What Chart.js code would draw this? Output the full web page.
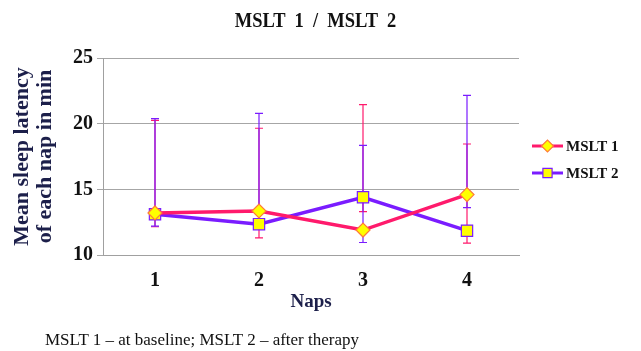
<!DOCTYPE html>
<html>
<head>
<meta charset="utf-8">
<script src="https://cdn.jsdelivr.net/npm/chart.js@4/dist/chart.umd.min.js"></script>
<style>
  body { margin: 0; background: #fff; }
  #wrap { position: relative; width: 641px; height: 351px; }
  #title {
    position: absolute; left: 0; top: 9px; width: 631px; text-align: center;
    font: bold 21px "Liberation Serif", serif; line-height: 22px; color: #111;
    white-space: pre; transform: scaleX(0.88);
  }
  #caption {
    position: absolute; left: 45px; top: 331px;
    font: 17px "Liberation Serif", serif; line-height: 17px; color: #111;
    white-space: nowrap;
  }
</style>
</head>
<body>
<div id="wrap">
  <canvas id="chart" width="641" height="351"></canvas>
  <div id="title">MSLT  1  /  MSLT  2</div>
  <div id="caption">MSLT 1 – at baseline; MSLT 2 – after therapy</div>
</div>
<script>
// data
const naps = ["1", "2", "3", "4"];
const mslt1 = [13.2, 13.35, 11.9, 14.6];
const mslt2 = [13.1, 12.35, 14.4, 11.85];
// error bar ends (low / high)
const mslt1Low = [12.15, 11.3, 13.3, 10.9];
const mslt1High = [20.25, 19.65, 21.45, 18.45];
const mslt2Low = [12.2, 12.4, 10.95, 13.6];
const mslt2High = [20.38, 20.78, 18.35, 22.15];
const yTicks = [10, 15, 20, 25];

const pink = "#ff1a6c";
const purple = "#7a1cff";
const navy = "#1c1f4a";
const serif = "'Liberation Serif', 'Times New Roman', serif";

// error bars, drawn with the chart's scales
const errorBars = {
  id: "errorBars",
  beforeDatasetsDraw(chart) {
    const ctx = chart.ctx;
    const x = chart.scales.x;
    const y = chart.scales.y;
    const sets = [
      { low: mslt1Low, high: mslt1High, color: pink },
      { low: mslt2Low, high: mslt2High, color: purple },
    ];
    ctx.save();
    ctx.lineWidth = 1.2;
    sets.forEach((s) => {
      ctx.strokeStyle = s.color;
      for (let i = 0; i < naps.length; i++) {
        const px = x.getPixelForValue(i);
        const yl = y.getPixelForValue(s.low[i]);
        const yh = y.getPixelForValue(s.high[i]);
        ctx.beginPath();
        ctx.moveTo(px, yl);
        ctx.lineTo(px, yh);
        ctx.moveTo(px - 4, yl);
        ctx.lineTo(px + 4, yl);
        ctx.moveTo(px - 4, yh);
        ctx.lineTo(px + 4, yh);
        ctx.stroke();
      }
    });
    ctx.restore();
  },
};

// legend with line + marker, on the right
const sideLegend = {
  id: "sideLegend",
  afterDraw(chart) {
    const ctx = chart.ctx;
    ctx.save();
    chart.data.datasets.forEach((ds, i) => {
      const yy = 146 + i * 27;
      ctx.strokeStyle = ds.borderColor;
      ctx.lineWidth = 3;
      ctx.beginPath();
      ctx.moveTo(532, yy);
      ctx.lineTo(563, yy);
      ctx.stroke();
      ctx.fillStyle = ds.pointBackgroundColor;
      ctx.strokeStyle = ds.pointBorderColor;
      ctx.lineWidth = 1.2;
      Chart.helpers.drawPoint(ctx, {
        pointStyle: ds.pointStyle,
        radius: ds.pointStyle === "rect" ? 6.5 : 6,
        borderWidth: 1.2,
      }, 547.5, yy);
      ctx.fillStyle = "#111";
      ctx.font = "bold 15px " + serif;
      ctx.textBaseline = "middle";
      ctx.fillText(ds.label, 566, yy + 1);
    });
    ctx.restore();
  },
};

new Chart(document.getElementById("chart"), {
  type: "line",
  data: {
    labels: naps,
    datasets: [
      {
        label: "MSLT 1",
        data: mslt1,
        borderColor: pink,
        borderWidth: 3.5,
        pointStyle: "rectRot",
        pointRadius: 7,
        pointBackgroundColor: "#ffff00",
        pointBorderColor: "#ff7a3a",
        pointBorderWidth: 1.2,
        tension: 0,
      },
      {
        label: "MSLT 2",
        data: mslt2,
        borderColor: purple,
        borderWidth: 3.5,
        pointStyle: "rect",
        pointRadius: 8,
        pointBackgroundColor: "#ffff00",
        pointBorderColor: purple,
        pointBorderWidth: 1.2,
        tension: 0,
      },
    ],
  },
  options: {
    responsive: false,
    animation: false,
    layout: { padding: { left: 0, right: 122, top: 58, bottom: 36 } },
    plugins: {
      legend: { display: false },
      tooltip: { enabled: false },
      title: { display: false },
    },
    scales: {
      x: {
        offset: true,
        grid: { display: false, drawTicks: false },
        border: { color: "#a0a0a0", width: 1 },
        ticks: {
          color: "#111",
          padding: 14,
          font: { family: serif, size: 20, weight: "bold" },
        },
        title: {
          display: true,
          text: "Naps",
          color: navy,
          font: { family: serif, size: 19, weight: "bold", lineHeight: 1.2 },
          padding: { top: 0, bottom: 2 },
        },
        afterFit: (axis) => { axis.height = 60; },
      },
      y: {
        min: 10,
        max: 25,
        afterBuildTicks: (axis) => {
          axis.ticks = yTicks.map((v) => ({ value: v }));
        },
        grid: { color: "#a6a6a6", lineWidth: 1, tickLength: 6 },
        border: { color: "#a0a0a0", width: 1 },
        ticks: {
          color: "#111",
          padding: 4,
          font: { family: serif, size: 20, weight: "bold" },
        },
        title: {
          display: true,
          text: ["Mean sleep latency", "of each nap in min"],
          color: navy,
          font: { family: serif, size: 22, weight: "bold", lineHeight: 1.05 },
          padding: { top: 10.5, bottom: 0 },
        },
        afterFit: (axis) => { axis.width = 103; },
      },
    },
  },
  plugins: [errorBars, sideLegend],
});
</script>
</body>
</html>
